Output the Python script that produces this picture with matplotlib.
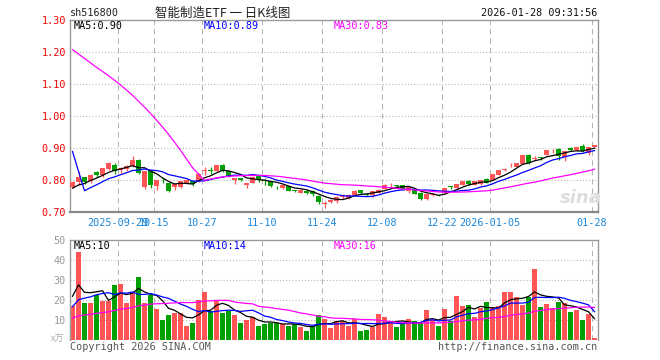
import numpy as np
import pandas as pd
import matplotlib
matplotlib.use('Agg')
import matplotlib.pyplot as plt

###############################################################################
# data
###############################################################################

# 29 sessions before the visible window (not drawn, they only feed the MAs)
hist_close = [1.22, 1.21, 1.23, 1.24, 1.22, 1.25, 1.26, 1.27,
              1.33, 1.36, 1.38, 1.37, 1.39,
              1.42, 1.44, 1.46,
              1.52, 1.56, 1.62, 1.60,
              1.43, 1.40,
              0.72, 0.73, 0.74,
              0.76, 0.77, 0.77, 0.78]
hist_vol = [7.5, 8, 8.5, 7, 9, 8, 7.5, 8, 9, 8.5, 7, 8, 8.5, 9, 8, 7.5, 8, 8.5,
            8.5, 9.5,
            9, 11, 12, 12, 14,
            15.5, 37.2, 19.7, 20.4]

opens = [.778, .793, .808, .796, .824, .817, .835, .846, .832, .835,
         .843, .864, .777, .827, .780, .801, .790, .777, .777, .792,
         .796, .796, .829, .832, .829, .848, .827, .801, .806, .785,
         .792, .813, .801, .796, .779, .775, .780, .768, .761, .767,
         .767, .750, .724, .731, .733, .748, .744, .753, .768, .756,
         .754, .760, .773, .783, .783, .783, .767, .768, .761, .741,
         .753, .754, .761, .779, .775, .785, .798, .786, .788, .804,
         .800, .817, .833, .846, .842, .851, .879, .867, .871, .879,
         .893, .897, .873, .901, .894, .907, .886, .903]
highs = [.797, .829, .811, .819, .829, .839, .856, .854, .840, .848,
         .874, .866, .829, .829, .801, .806, .792, .787, .798, .802,
         .798, .821, .840, .840, .847, .849, .828, .806, .807, .790,
         .813, .815, .806, .797, .781, .786, .781, .770, .771, .769,
         .769, .752, .733, .742, .750, .757, .756, .768, .770, .758,
         .767, .771, .787, .790, .785, .784, .779, .770, .762, .756,
         .756, .756, .776, .780, .788, .797, .800, .797, .801, .806,
         .819, .833, .838, .852, .854, .878, .881, .876, .872, .895,
         .897, .900, .892, .904, .904, .913, .903, .911]
lows = [.775, .785, .787, .791, .808, .811, .832, .819, .822, .829,
        .840, .820, .772, .775, .769, .791, .763, .770, .775, .787,
        .781, .794, .815, .818, .826, .825, .809, .787, .796, .775,
        .790, .795, .785, .779, .772, .771, .766, .763, .758, .757,
        .750, .725, .713, .728, .728, .741, .742, .750, .756, .751,
        .748, .758, .771, .775, .776, .770, .760, .756, .737, .739,
        .749, .751, .759, .773, .773, .783, .786, .784, .786, .790,
        .799, .815, .829, .840, .840, .849, .851, .862, .864, .877,
        .885, .863, .860, .892, .892, .888, .877, .902]
closes = [.794, .808, .794, .817, .817, .837, .854, .827, .837, .843,
          .864, .822, .827, .785, .801, .799, .767, .787, .796, .799,
          .788, .819, .833, .827, .846, .827, .811, .806, .800, .790,
          .811, .800, .797, .781, .777, .785, .767, .766, .770, .760,
          .755, .731, .728, .739, .746, .750, .754, .767, .758, .754,
          .765, .770, .786, .785, .781, .771, .778, .757, .741, .755,
          .755, .752, .775, .778, .787, .796, .787, .796, .800, .791,
          .818, .832, .835, .848, .853, .877, .853, .870, .869, .894,
          .895, .876, .890, .893, .903, .890, .902, .910]
volumes = [17.2, 44.0, 18.7, 18.7, 22.7, 19.8, 19.8, 27.7, 28.2, 18.7,
           23.5, 31.7, 18.7, 22.7, 15.7, 10.2, 12.7, 13.7, 13.7, 7.2,
           8.7, 20.2, 24.2, 14.7, 19.7, 13.7, 14.7, 12.7, 8.7, 10.2,
           11.5, 7.2, 8.2, 8.7, 8.5, 8.2, 7.3, 8.1, 6.7, 4.8,
           7.2, 12.6, 10.7, 6.2, 9.7, 9.7, 7.2, 10.7, 4.8, 5.2,
           6.7, 13.2, 11.7, 8.7, 6.7, 8.1, 10.7, 9.7, 8.5, 15.2,
           10.0, 7.2, 15.7, 9.5, 22.2, 17.2, 17.7, 11.7, 16.2, 19.2,
           16.5, 17.2, 24.2, 24.2, 21.7, 17.7, 21.7, 35.7, 16.7, 18.2,
           16.2, 19.2, 18.5, 14.2, 15.2, 10.2, 13.2, 1.2]

date_idx = [8, 14, 22, 32, 42, 52, 62, 70, 87]
date_labels = ['2025-09-29', '10-15', '10-27', '11-10', '11-24', '12-08',
               '12-22', '2026-01-05', '01-28']
price_ticks = [0.70, 0.80, 0.90, 1.00, 1.10, 1.20, 1.30]
vol_ticks = [10, 20, 30, 40, 50]

###############################################################################
# moving averages
###############################################################################
nh = len(hist_close)
all_close = pd.Series(hist_close + closes)
all_vol = pd.Series(hist_vol + volumes)
ma_price = {n: all_close.rolling(n).mean().to_numpy()[nh:] for n in (5, 10, 30)}
ma_vol = {n: all_vol.rolling(n).mean().to_numpy()[nh:] for n in (5, 10, 30)}

###############################################################################
# figure
###############################################################################
W, H = 660, 360
RED = '#ff5555'
GREEN = '#00a000'
MA_COL = {5: 'black', 10: '#0000ff', 30: '#ff00ff'}
GRID = '#b4b4b4'
MONO = 'DejaVu Sans Mono'
CJK = ['Noto Sans CJK SC', 'DejaVu Sans']

def fx(px):
    return px / W

def fy(py):
    return 1 - py / H

fig = plt.figure(figsize=(6.6, 3.6), dpi=100)
ax = fig.add_axes([fx(70), fy(212), fx(598) - fx(70), (212 - 20.3) / H])
axv = fig.add_axes([fx(70), fy(340.3), fx(598) - fx(70), 100 / H])

x = np.arange(len(closes))
o = np.array(opens)
c = np.array(closes)
up = c >= o
cols = np.where(up, RED, GREEN)
xl = (-0.42, 87.58)

for a in (ax, axv):
    a.set_xlim(*xl)
    for i in date_idx:
        a.axvline(i - 0.4, color=GRID, lw=0.75, ls=(0, (5, 4)), zorder=0)
    for s in a.spines.values():
        s.set_color('#999999')
        s.set_linewidth(1)
    a.tick_params(length=0)

# price panel
ax.set_ylim(0.70, 1.30)
for p in price_ticks[1:-1]:
    ax.axhline(p, color=GRID, lw=0.75, ls=(0, (1, 2)), zorder=0)
ax.vlines(x, lows, highs, colors=cols, lw=0.9, zorder=2)
body = np.maximum(np.abs(c - o), 0.0025)
ax.bar(x, body, bottom=np.minimum(o, c), width=5 / 6, color=cols,
       linewidth=0, zorder=3)
for n in (5, 10, 30):
    ax.plot(x, ma_price[n], color=MA_COL[n], lw=0.9, zorder=4)
ax.set_yticks(price_ticks)
ax.set_yticklabels(['%.2f' % p for p in price_ticks], color='#ee0000',
                   family=MONO, fontsize=7.3)
ax.tick_params(axis='y', pad=3)
ax.set_xticks([i - 0.4 for i in date_idx])
ax.set_xticklabels(date_labels, color='#1a86d9', family=MONO, fontsize=7.3)
ax.tick_params(axis='x', pad=4)
ax.spines['bottom'].set_color('#888888')
ax.spines['bottom'].set_linewidth(1.6)

# volume panel
axv.set_ylim(0, 50)
for v in vol_ticks[:-1]:
    axv.axhline(v, color=GRID, lw=0.75, ls=(0, (1, 2)), zorder=0)
axv.bar(x, volumes, width=5 / 6, color=cols, linewidth=0, zorder=2)
for n in (5, 10, 30):
    axv.plot(x, ma_vol[n], color=MA_COL[n], lw=0.9, zorder=4)
axv.set_yticks(vol_ticks)
axv.set_yticklabels([str(v) for v in vol_ticks], color='#999999',
                    family=MONO, fontsize=7.3)
axv.tick_params(axis='y', pad=3)
axv.set_xticks([])
axv.spines['bottom'].set_visible(False)

# header and footer texts
fig.text(fx(70), fy(13), 'sh516800', family=MONO, fontsize=7.3,
         color='#222222', va='center', ha='left')
fig.text(fx(223), fy(13), '智能制造ETF 一 日K线图', family=CJK, fontsize=9,
         color='#222222', va='center', ha='center')
fig.text(fx(597), fy(13), '2026-01-28 09:31:56', family=MONO, fontsize=7.3,
         color='#111111', va='center', ha='right')

ma_lbl_price = ['MA5:0.90', 'MA10:0.89', 'MA30:0.83']
ma_lbl_vol = ['MA5:10', 'MA10:14', 'MA30:16']
for lbl_p, lbl_v, n, px in zip(ma_lbl_price, ma_lbl_vol, (5, 10, 30),
                               (74, 204, 334)):
    fig.text(fx(px), fy(26), lbl_p, family=MONO, fontsize=7.3,
             color=MA_COL[n], va='center', ha='left')
    fig.text(fx(px), fy(246), lbl_v, family=MONO, fontsize=7.3,
             color=MA_COL[n], va='center', ha='left')

fig.text(fx(64), fy(339), 'x万', family=CJK, fontsize=6.5, color='#aaaaaa',
         va='center', ha='right')
fig.text(fx(70), fy(347), 'Copyright 2026 SINA.COM', family=MONO,
         fontsize=7.3, color='#555555', va='center', ha='left')
fig.text(fx(597), fy(347), 'http://finance.sina.com.cn', family=MONO,
         fontsize=7.3, color='#555555', va='center', ha='right')
fig.text(fx(581), fy(198), 'sina', fontsize=13, fontweight='bold',
         style='italic', color='#dddddd', va='center', ha='center', zorder=1)

fig.savefig('out.png', dpi=100)
